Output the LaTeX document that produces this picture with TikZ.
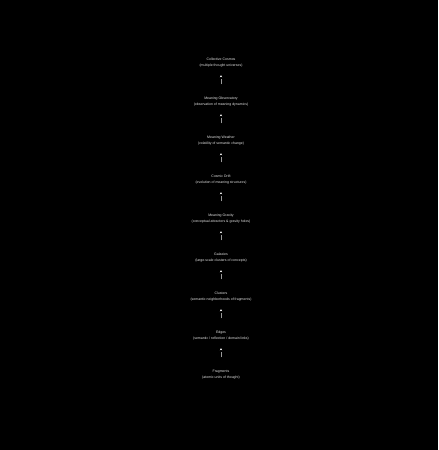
\documentclass[tikz,border=0pt]{standalone}
\usepackage{fontspec}
\setmainfont{Liberation Sans}
\usetikzlibrary{arrows.meta}

\tikzset{
  layer/.style={text=white!90!black, align=center, inner sep=0pt,
    font=\fontsize{7}{12}\selectfont},
  up/.style={-{Stealth[length=4pt,width=4pt,white]}, white!60!black,
    line width=1pt, dash pattern=on 10pt off 20pt, shorten >=15pt, shorten <=26pt}
}

\begin{document}
\begin{tikzpicture}[x=1pt,y=1pt]

  \fill[black] (0,0) rectangle (876,-900);

  \node[layer] (cosmos) at (442,-126) {Collective Cosmos\\(multiple thought universes)};
  \node[layer] (observatory) at (442,-204) {Meaning Observatory\\(observation of meaning dynamics)};
  \node[layer] (weather) at (442,-282) {Meaning Weather\\(volatility of semantic change)};
  \node[layer] (drift) at (442,-360) {Cosmic Drift\\(evolution of meaning structures)};
  \node[layer] (gravity) at (442,-438) {Meaning Gravity\\(conceptual attractors \& gravity holes)};
  \node[layer] (galaxies) at (442,-516) {Galaxies\\(large-scale clusters of concepts)};
  \node[layer] (clusters) at (442,-594) {Clusters\\(semantic neighborhoods of fragments)};
  \node[layer] (edges) at (442,-672) {Edges\\(semantic / reflection / domain links)};
  \node[layer] (fragments) at (442,-750) {Fragments\\(atomic units of thought)};

  \draw[up] (observatory) -- (cosmos);
  \draw[up] (weather) -- (observatory);
  \draw[up] (drift) -- (weather);
  \draw[up] (gravity) -- (drift);
  \draw[up] (galaxies) -- (gravity);
  \draw[up] (clusters) -- (galaxies);
  \draw[up] (edges) -- (clusters);
  \draw[up] (fragments) -- (edges);

\end{tikzpicture}
\end{document}
